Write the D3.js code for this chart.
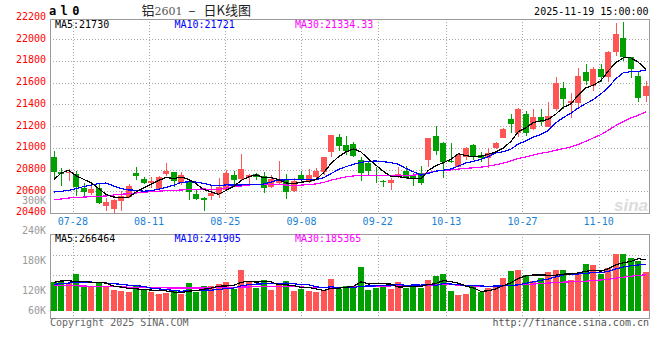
<!DOCTYPE html>
<html><head><meta charset="utf-8">
<script src="https://cdn.jsdelivr.net/npm/d3@7"></script>
<style>
body{margin:0;background:#fff}
svg{display:block}
text{font-family:"DejaVu Sans Mono",monospace;font-size:10px}
</style>
</head><body>
<svg id="c" width="660" height="360"></svg>
<script>
// ---------- data ----------
const opens = [20916,20780,20768,20759,20627,20580,20627,20467,20441,20513,
20545,20764,20711,20679,20621,20759,20778,20674,20685,20575,
20538,20559,20575,20615,20753,20710,20729,20756,20741,20642,
20673,20704,20605,20750,20688,20734,20778,20964,21097,21026,
21033,20888,20858,20750,20697,20679,20729,20790,20750,20766,
20888,21109,21042,20882,20826,20918,21026,20934,20904,20996,
21093,21263,21139,21312,21171,21281,21195,21355,21548,21416,
21416,21696,21569,21723,21655,21885,22009,21834,21661,21477];
const highs = [20971,20817,20802,20787,20672,20646,20670,20536,20529,20605,
20670,20824,20729,20734,20741,20856,20782,20778,20690,20609,
20547,20646,20722,20799,20784,20943,20756,20771,20780,20750,
20879,20756,20720,20790,20802,20812,20918,21123,21127,21109,
21057,20918,20867,20821,20704,20725,20826,20833,20766,20833,
21091,21201,21054,21042,20950,21005,21040,20964,20996,21057,
21180,21312,21370,21342,21355,21355,21425,21655,21609,21502,
21732,21769,21742,21769,21892,22152,22161,21841,21698,21618];
const lows = [20713,20651,20695,20557,20557,20569,20483,20421,20400,20421,
20538,20708,20670,20627,20596,20741,20641,20661,20520,20522,
20421,20522,20538,20600,20670,20707,20658,20704,20581,20627,
20664,20526,20596,20688,20673,20716,20750,20913,20974,20934,
20913,20697,20750,20673,20637,20612,20720,20710,20651,20658,
20821,20934,20720,20858,20821,20888,20888,20872,20812,20987,
21088,21134,21103,21109,21164,21204,21189,21342,21355,21272,
21379,21579,21526,21609,21609,21846,21802,21640,21425,21425];
const closes = [20778,20756,20778,20639,20598,20621,20495,20501,20524,20555,
20649,20745,20679,20695,20731,20790,20693,20748,20589,20531,
20522,20584,20637,20768,20707,20802,20750,20734,20633,20713,
20710,20596,20697,20704,20750,20790,20913,21118,21020,20974,
20928,20771,20790,20738,20685,20704,20759,20734,20710,20673,
21088,20974,20872,20867,20934,20996,20918,20904,20955,21047,
21171,21217,21358,21134,21287,21241,21293,21600,21450,21434,
21661,21618,21723,21655,21885,22048,21834,21723,21456,21569];
const volumes = [151,154,149,195,126,133,149,131,110,104,
99,135,110,99,88,92,104,88,147,101,
131,129,143,152,113,217,156,122,163,110,
136,156,104,115,104,101,110,169,113,131,
122,233,110,122,127,115,152,119,136,122,
163,185,195,104,83,88,136,101,119,136,
174,211,217,190,158,174,206,218,217,163,
201,250,245,194,229,304,304,282,265,206].map(v => v * 1000);

// moving-average values at the left edge (window reaches before the visible range)
const ma5Head = [20707,20768,20793,20743];
const ma10Head = [20593,20600,20609,20624,20644,20658,20670,20676,20649];
const ma30Head = [20520,20529,20538,20543,20547,20550,20554,20557,20566,20573,
20578,20584,20592,20596,20601,20605,20607,20612,20616,20619,
20621,20618,20616,20630,20642,20649,20658,20662,20662];
const volMa5Head = [151,158,159,155].map(v => v * 1000);
const volMa10Head = [140,144,147,150,152,152,151,147,143].map(v => v * 1000);
const volMa30Head = [135,134,133,132,131,130,129,128,127,126,125,124,123,122,121,121,
120,120,120,120,120,121,122,123,124,125,126,127,128].map(v => v * 1000);

const tickIndex = [3,13,23,33,43,52,62,72];
const tickLabels = ["07-28","08-11","08-25","09-08","09-22","10-13","10-27","11-10"];
const priceTicks = [20400,20600,20800,21000,21200,21400,21600,21800,22000,22200];
const volTicks = [300000,240000,180000,120000,60000];
const volTickLabels = ["300K","240K","180K","120K","60K"];
const priceLegend = ["MA5:21730","MA10:21721","MA30:21334.33"];
const volLegend = ["MA5:266464","MA10:241905","MA30:185365"];

// ---------- drawing ----------
const svg = d3.select("#c");
const n = closes.length;
const L = 50, R = 649.5;
const RED = "#ff5555", GREEN = "#00a000", GRID = "#a8a8a8", FRAME = "#9a9a9a";
const MA_COL = ["#000000", "#0000ff", "#ff00ff"];

const x = d3.scaleBand().domain(d3.range(n)).range([L, R]);
const cx = i => x(i) + x.bandwidth() / 2;
const xGrid = d3.scaleLinear().domain([0, n - 1]).range([L, 652]);
const yP = d3.scaleLinear().domain([20400, 22200]).range([213, 17.6]);
const vy = d3.scaleLinear().domain([0, 406600]).range([310.5, 234.5]);
const volLabelY = d3.scaleLinear().domain([120000, 300000]).range([294, 204]);
const volGrid = d3.scaleLinear().domain([0, 4]).range([234.5, 315.7]);

const mainTop = 19, mainBot = 213, volTop = 234, volBot = 318;

function movingAvg(vals, k, head) {
  return vals.map((v, i) => i < k - 1 ? head[i] : d3.mean(vals.slice(i - k + 1, i + 1)));
}
const up = i => closes[i] >= opens[i];

// grids
const g = svg.append("g");
priceTicks.filter(t => t > 20400 && t < 22200).forEach(t => {
  const yy = Math.round(yP(t)) + 0.5;
  g.append("line").attr("x1", L).attr("x2", R).attr("y1", yy).attr("y2", yy)
    .attr("stroke", GRID).attr("stroke-dasharray", "1,2");
});
[1, 2, 3].forEach(k => {
  const yy = Math.round(volGrid(k)) + 0.5;
  g.append("line").attr("x1", L).attr("x2", R).attr("y1", yy).attr("y2", yy)
    .attr("stroke", GRID).attr("stroke-dasharray", "1,2");
});
tickIndex.forEach(k => {
  const xx = Math.round(xGrid(k)) + 0.5;
  g.append("line").attr("x1", xx).attr("x2", xx).attr("y1", mainTop).attr("y2", mainBot)
    .attr("stroke", GRID).attr("stroke-dasharray", "1,2");
  g.append("line").attr("x1", xx).attr("x2", xx).attr("y1", volTop).attr("y2", volBot)
    .attr("stroke", GRID).attr("stroke-dasharray", "1,2");
});

// watermark
svg.append("text").attr("x", 648).attr("y", 211).attr("text-anchor", "end")
  .style("font-family", "'Liberation Sans',Arial,sans-serif").style("font-size", "17px")
  .style("font-style", "italic").style("font-weight", "bold")
  .attr("fill", "#dcdcdc").text("sina");

// candles
const cg = svg.append("g").attr("shape-rendering", "crispEdges");
d3.range(n).forEach(i => {
  const col = up(i) ? RED : GREEN;
  const x0 = Math.round(cx(i) - 3);
  cg.append("rect").attr("x", x0 + 3).attr("width", 1)
    .attr("y", Math.round(yP(highs[i]))).attr("height", Math.max(1, Math.round(yP(lows[i])) - Math.round(yP(highs[i]))))
    .attr("fill", col);
  const top = Math.round(yP(Math.max(opens[i], closes[i])));
  const bot = Math.round(yP(Math.min(opens[i], closes[i])));
  cg.append("rect").attr("x", x0).attr("width", 6)
    .attr("y", top).attr("height", Math.max(1, bot - top)).attr("fill", col);
});

// volume bars
const vg = svg.append("g").attr("shape-rendering", "crispEdges");
volumes.forEach((v, i) => {
  const x0 = Math.round(cx(i) - 3);
  const t = Math.round(vy(v));
  vg.append("rect").attr("x", x0).attr("width", 6).attr("y", t)
    .attr("height", Math.round(vy(0)) - t).attr("fill", up(i) ? RED : GREEN);
});

// MA lines
const priceMAs = [movingAvg(closes, 5, ma5Head), movingAvg(closes, 10, ma10Head), movingAvg(closes, 30, ma30Head)];
const volMAs = [movingAvg(volumes, 5, volMa5Head), movingAvg(volumes, 10, volMa10Head), movingAvg(volumes, 30, volMa30Head)];
const lineP = d3.line().x((d, i) => cx(i)).y(d => yP(d));
const lineV = d3.line().x((d, i) => cx(i)).y(d => vy(d));
[2, 1, 0].forEach(k => {
  svg.append("path").attr("d", lineP(priceMAs[k])).attr("fill", "none")
    .attr("stroke", MA_COL[k]).attr("stroke-width", 1.2).attr("shape-rendering", "crispEdges");
  svg.append("path").attr("d", lineV(volMAs[k])).attr("fill", "none")
    .attr("stroke", MA_COL[k]).attr("stroke-width", 1.2).attr("shape-rendering", "crispEdges");
});

// frames
svg.append("path").attr("fill", "none").attr("stroke", FRAME).attr("shape-rendering", "crispEdges")
  .attr("d", `M${L + 0.5},${mainTop + 0.5}H${R}V${mainBot + 0.5}H${L + 0.5}Z`);
svg.append("path").attr("fill", "none").attr("stroke", FRAME).attr("shape-rendering", "crispEdges")
  .attr("d", `M${L + 0.5},${volTop + 0.5}H${R}V${volBot + 0.5}H${L + 0.5}Z`);

// price axis labels
priceTicks.forEach(t => {
  svg.append("text").attr("x", 46).attr("y", yP(t) + 2.4).attr("text-anchor", "end")
    .attr("fill", "#ff0000").text(d3.format("d")(t));
});
// volume axis labels
volTicks.forEach((v, k) => {
  svg.append("text").attr("x", 46).attr("y", Math.min(volLabelY(v), vy(0) + 3.5))
    .attr("text-anchor", "end").attr("fill", "#9a9a9a").text(volTickLabels[k]);
});
// date labels
tickIndex.forEach((k, j) => {
  svg.append("text").attr("x", xGrid(k)).attr("y", 225).attr("text-anchor", "middle")
    .attr("fill", "#1a7fd6").text(tickLabels[j]);
});

// legends
const legX = [55, 174.5, 295];
priceLegend.forEach((s, k) => svg.append("text").attr("x", legX[k]).attr("y", 27.5).attr("fill", MA_COL[k]).text(s));
volLegend.forEach((s, k) => svg.append("text").attr("x", legX[k]).attr("y", 241.8).attr("fill", MA_COL[k]).text(s));

// header
svg.append("text").attr("x", 49).attr("y", 15).style("font-size", "12px").style("font-weight", "bold")
  .style("letter-spacing", "4.4px").attr("fill", "#000").text("al0");
const title = svg.append("text").attr("x", 141.5).attr("y", 15)
  .style("font-family", "'Noto Sans CJK SC',sans-serif").style("font-size", "13px").attr("fill", "#222");
title.append("tspan").text("铝");
title.append("tspan").style("font-family", "'DejaVu Serif',serif").style("font-size", "11px").attr("fill", "#555").text("2601");
title.append("tspan").attr("dx", 6).text("–");
title.append("tspan").attr("dx", 8).text("日K线图");
svg.append("text").attr("x", 648.5).attr("y", 15).attr("text-anchor", "end").attr("fill", "#000")
  .text("2025-11-19 15:00:00");

// footer
svg.append("text").attr("x", 50).attr("y", 326).attr("fill", "#666").text("Copyright 2025 SINA.COM");
svg.append("text").attr("x", 649).attr("y", 326).attr("text-anchor", "end").attr("fill", "#555")
  .text("http://finance.sina.com.cn");
</script>
</body></html>
